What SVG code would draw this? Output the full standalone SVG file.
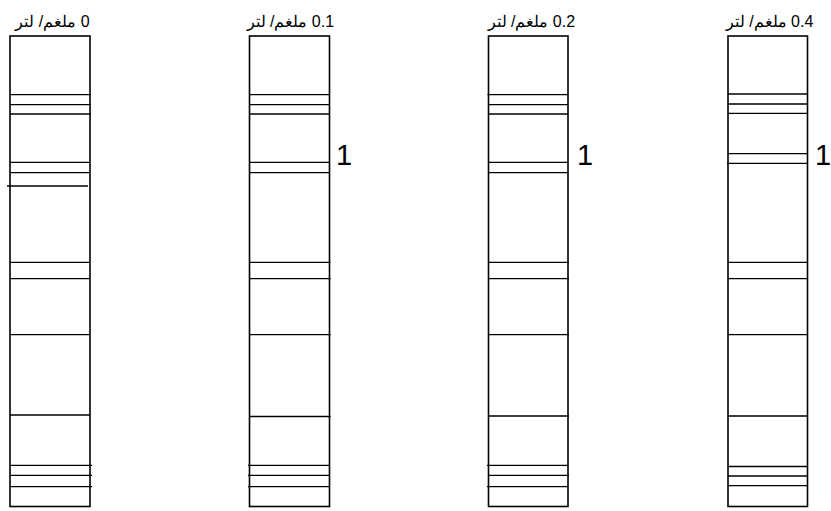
<svg xmlns="http://www.w3.org/2000/svg" width="831" height="511" viewBox="0 0 831 511">
<style>
.box{fill:#fff;stroke:#000;stroke-width:1.6}
.ln{stroke:#000;stroke-width:1.3;fill:none}
.lbl{font-family:"Liberation Sans",Arial,"Noto Sans",sans-serif;font-size:16px;fill:#000}
.num{font-family:"Liberation Sans",Arial,sans-serif;font-size:29px;fill:#000}
</style>
<rect width="831" height="511" fill="#fff"/>
<g id="col-0">
<text class="lbl" x="52.5" y="27" text-anchor="middle" direction="rtl">0 ملغم/ لتر</text>
<rect class="box" x="10" y="36" width="80" height="470.5"/>
<path class="ln" d="M10 94.7H91M10 104.7H91M10 114H91M10 162.3H90M10 172.7H90M7 186H88M10 262.3H90M10 278.7H90M10 334.7H90M10 415H90M10 465.3H92M10 475.3H92M10 486.7H92"/>
</g>
<g id="col-1">
<text class="lbl" x="290.3" y="27" text-anchor="middle" direction="rtl">0.1 ملغم/ لتر</text>
<rect class="box" x="249.5" y="36" width="80" height="470.5"/>
<path class="ln" d="M249.5 94.7H329.5M249.5 104.7H329.5M249.5 114H329.5M249.5 162.3H329.5M249.5 172.7H329.5M249.5 262.3H330.5M249.5 278.7H330.5M249.5 334.7H330.5M249.5 416.5H330.5M248 465.3H329.5M248 475.3H329.5M248 486.7H329.5"/>
<text class="num" x="336" y="164.5">1</text>
</g>
<g id="col-2">
<text class="lbl" x="531.3" y="27" text-anchor="middle" direction="rtl">0.2 ملغم/ لتر</text>
<rect class="box" x="488.5" y="36" width="79.5" height="470.5"/>
<path class="ln" d="M487.5 94.7H568M488.5 104.7H568M488.5 114H568M488.5 162.3H568M488.5 172.7H568M488.5 262.3H569M488.5 278.7H569M488.5 334.7H569M488.5 416H569M487 465.3H568M488.5 475.3H569M487 486.7H568"/>
<text class="num" x="577" y="164.5">1</text>
</g>
<g id="col-3">
<text class="lbl" x="769.5" y="27" text-anchor="middle" direction="rtl">0.4 ملغم/ لتر</text>
<rect class="box" x="728" y="36" width="79.5" height="470.5"/>
<path class="ln" d="M728 94H807.5M728 104H807.5M728 113.3H807.5M728 153.7H807.5M727 163.3H807.5M728 262.3H807.5M728 278.7H807.5M728 334.7H807.5M728 416H807.5M728 466.5H807.5M728 476H807.5M728 485.7H807.5"/>
<text class="num" x="815" y="164.5">1</text>
</g>
<g id="connectors"/>
</svg>
